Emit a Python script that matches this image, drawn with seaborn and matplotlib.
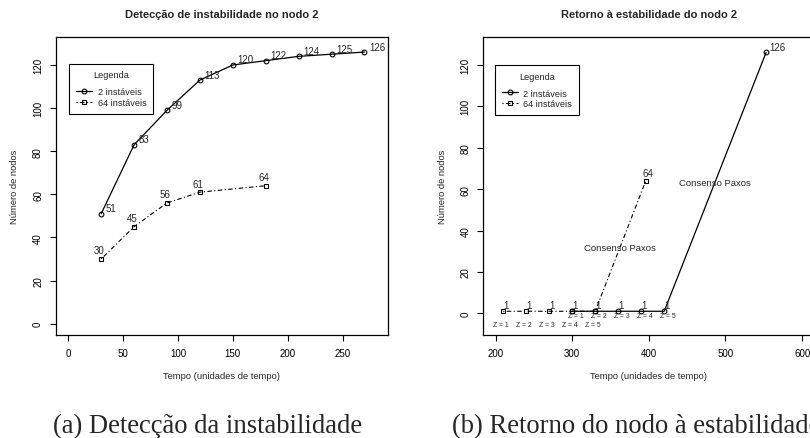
import matplotlib
matplotlib.use("Agg")
import matplotlib.pyplot as plt
import seaborn as sns
import pandas as pd

# ---------------- data ----------------
series_names = ["2 instáveis", "64 instáveis"]

# panel (a): detection of instability
a_x_2 = [30, 60, 90, 120, 150, 180, 210, 240, 270]
a_y_2 = [51, 83, 99, 113, 120, 122, 124, 125, 126]
a_x_64 = [30, 60, 90, 120, 180]
a_y_64 = [30, 45, 56, 61, 64]

# panel (b): return to stability
b_x_2 = [300, 330, 360, 390, 420, 553]
b_y_2 = [1, 1, 1, 1, 1, 126]
b_x_64 = [210, 240, 270, 300, 330, 396]
b_y_64 = [1, 1, 1, 1, 1, 64]
z_labels = ["Z = 1", "Z = 2", "Z = 3", "Z = 4", "Z = 5"]

paxos_text = "Consenso Paxos"
paxos_pos = [(362, 32), (486, 63.4)]

titles = ["Detecção de instabilidade no nodo 2", "Retorno à estabilidade do nodo 2"]
captions = ["(a) Detecção da instabilidade", "(b) Retorno do nodo à estabilidade"]
xlabel = "Tempo (unidades de tempo)"
ylabel = "Número de nodos"
a_xticks = [0, 50, 100, 150, 200, 250]
b_xticks = [200, 300, 400, 500, 600]
yticks = [0, 20, 40, 60, 80, 100, 120]

# ---------------- style ----------------
sns.set_style("white")
plt.rcParams["font.family"] = ["Liberation Sans", "DejaVu Sans"]

W, H = 810, 439
fig = plt.figure(figsize=(W / 100, H / 100), dpi=100)

def px_ax(left, top, right, bottom):
    return fig.add_axes([left / W, 1 - bottom / H, (right - left) / W, (bottom - top) / H])

axA = px_ax(56, 37.7, 387.7, 335.7)
axB = px_ax(483.3, 38.3, 814.4, 335.7)

PT = 0.72  # points per pixel

solid_kw = dict(color="black", linewidth=0.9, linestyle="-", marker="o", markersize=3.4,
                markerfacecolor="none", markeredgecolor="black", markeredgewidth=0.8)
dash_kw = dict(color="black", linewidth=0.8, linestyle=(0, (1, 2.2, 4, 2.2)), marker="s",
               markersize=3.1, markerfacecolor="none", markeredgecolor="black",
               markeredgewidth=0.8)


def draw(ax, x2, y2, x64, y64):
    d2 = pd.DataFrame({"x": x2, "y": y2})
    d64 = pd.DataFrame({"x": x64, "y": y64})
    sns.lineplot(data=d2, x="x", y="y", ax=ax, errorbar=None, legend=False,
                 label=series_names[0], **solid_kw)
    sns.lineplot(data=d64, x="x", y="y", ax=ax, errorbar=None, legend=False,
                 label=series_names[1], **dash_kw)
    return ax.get_lines()[:2]


def style(ax, xlim, ylim, xticks, title, leg_anchor, handles):
    ax.set_xlim(*xlim)
    ax.set_ylim(*ylim)
    ax.set_xticks(xticks)
    ax.set_yticks(yticks)
    for s in ax.spines.values():
        s.set_visible(True)
        s.set_color("black")
        s.set_linewidth(0.9)
    ax.tick_params(axis="both", direction="out", length=4.3, width=0.8, pad=5,
                   labelsize=7, colors="black", bottom=True, left=True)
    for lab in ax.get_yticklabels():
        lab.set_rotation(90)
        lab.set_va("center")
    ax.set_xlabel(xlabel, fontsize=6.75)
    ax.set_ylabel(ylabel, fontsize=6.75)
    ax.xaxis.label.set_va("center")
    ax.yaxis.label.set_va("center")
    ax.xaxis.set_label_coords(0.5, -41.3 / 298)
    ax.yaxis.set_label_coords(-41 / 331.5, 0.5)
    ax.text(0.5, 1 + 23 / 298, title, transform=ax.transAxes, ha="center", va="center",
            fontsize=8, fontweight="bold")
    leg = ax.legend(handles, series_names, title="Legenda", loc="upper left",
                    bbox_to_anchor=leg_anchor, fancybox=False, edgecolor="black",
                    framealpha=1, fontsize=6.6, title_fontsize=6.6, handlelength=1.75,
                    handletextpad=0.6, borderpad=0.6, labelspacing=0.2,
                    borderaxespad=0, numpoints=1)
    leg.get_frame().set_linewidth(0.8)
    leg._legend_box.sep = 5.5
    leg._legend_box.pad = 5.0


def same_point_seen(seen, x, y):
    key = (x, y)
    if key in seen:
        return True
    seen.add(key)
    return False


# ----- panel (a) -----
hA = draw(axA, a_x_2, a_y_2, a_x_64, a_y_64)
for x, y in zip(a_x_2, a_y_2):
    axA.annotate(str(y), (x, y), xytext=(4.5 * PT, 5.5 * PT), textcoords="offset points",
                 ha="left", va="center", fontsize=7)
for x, y in zip(a_x_64, a_y_64):
    axA.annotate(str(y), (x, y), xytext=(-2 * PT, 8.6 * PT), textcoords="offset points",
                 ha="center", va="center", fontsize=7)
style(axA, (-11.2, 291.2), (-5.12, 133.12), a_xticks, titles[0], (0.040, 0.910), hA)

# ----- panel (b) -----
hB = draw(axB, b_x_2, b_y_2, b_x_64, b_y_64)
seen = set()
n2 = len(b_x_2)
for i, (x, y) in enumerate(zip(b_x_2, b_y_2)):
    if same_point_seen(seen, x, y):
        continue
    if i == n2 - 1:
        axB.annotate(str(y), (x, y), xytext=(3 * PT, 5 * PT), textcoords="offset points",
                     ha="left", va="center", fontsize=7)
    else:
        axB.annotate(str(y), (x, y), xytext=(2.8 * PT, 6.6 * PT), textcoords="offset points",
                     ha="center", va="center", fontsize=7)
n64 = len(b_x_64)
for i, (x, y) in enumerate(zip(b_x_64, b_y_64)):
    if same_point_seen(seen, x, y):
        continue
    dy = 8.3 if i == n64 - 1 else 6.6
    axB.annotate(str(y), (x, y), xytext=(2.6 * PT, dy * PT), textcoords="offset points",
                 ha="center", va="center", fontsize=7)
for x, y, z in zip(b_x_2, b_y_2, z_labels):
    axB.annotate(z, (x, y), xytext=(4 * PT, -4.6 * PT), textcoords="offset points",
                 ha="center", va="center", fontsize=4.9)
for x, y, z in zip(b_x_64, b_y_64, z_labels):
    axB.annotate(z, (x, y), xytext=(-2 * PT, -13 * PT), textcoords="offset points",
                 ha="center", va="center", fontsize=4.9)
for (px, py) in paxos_pos:
    axB.text(px, py, paxos_text, ha="center", va="center", fontsize=6.8)
style(axB, (184, 616), (-10.32, 133.32), b_xticks, titles[1], (0.035, 0.907), hB)

# ----- captions -----
fig.text(53 / W, 6 / H, captions[0], ha="left", va="baseline", fontsize=19.2,
         family=["Liberation Serif", "DejaVu Serif"])
fig.text(451.7 / W, 6 / H, captions[1], ha="left", va="baseline", fontsize=19.2,
         family=["Liberation Serif", "DejaVu Serif"])

fig.savefig("out.png", dpi=100)
